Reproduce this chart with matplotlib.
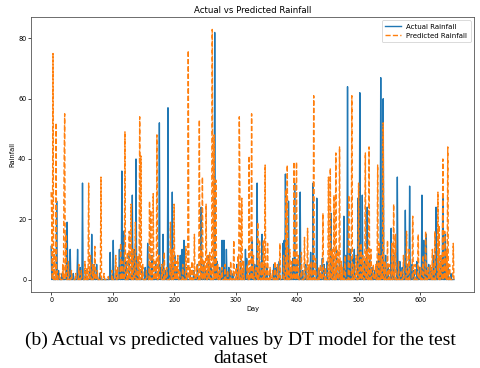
import numpy as np
import matplotlib
matplotlib.use("Agg")
import matplotlib.pyplot as plt

n_days = 656

actual_days = [0, 2, 9, 12, 18, 24, 26, 31, 36, 43, 47, 51, 56, 63, 66, 70, 74, 79, 96, 101, 106, 111, 115, 118,
               122, 127, 132, 135, 138, 142, 148, 153, 157, 160, 164, 170, 176, 179, 182, 186, 190, 194, 197,
               201, 205, 210, 213, 216, 220, 226, 232, 238, 244, 248, 252, 256, 260, 266, 270, 274, 278, 281,
               285, 289, 292, 296, 302, 308, 312, 316, 318, 323, 327, 331, 335, 339, 343, 347, 351, 356, 362,
               366, 371, 377, 379, 381, 386, 390, 393, 396, 400, 405, 409, 414, 419, 422, 426, 432, 436, 441,
               444, 449, 455, 459, 464, 469, 476, 479, 482, 486, 490, 493, 499, 502, 506, 510, 514, 518, 522,
               526, 530, 533, 536, 540, 544, 548, 553, 557, 563, 567, 571, 576, 579, 583, 587, 590, 595, 599,
               603, 606, 610, 614, 618, 622, 626, 630, 634, 637, 641, 645, 650]
actual_vals = [11, 5, 26, 3, 2, 4, 19, 10, 2, 10, 4, 32, 3, 4, 15, 5, 5, 2, 9, 13, 3, 10, 36, 16,
               6, 8, 28, 10, 40, 6, 3, 4, 12, 5, 8, 6, 52, 4, 15, 3, 57, 5, 29,
               8, 3, 8, 10, 13, 4, 2, 3, 5, 24, 6, 3, 8, 5, 82, 6, 4, 13, 13,
               10, 4, 3, 2, 5, 6, 3, 10, 7, 4, 13, 5, 32, 6, 15, 5, 4, 2, 5,
               4, 6, 12, 13, 35, 26, 4, 7, 32, 5, 29, 3, 5, 4, 9, 32, 27, 3, 7,
               5, 6, 22, 8, 10, 6, 21, 8, 64, 10, 7, 10, 27, 62, 28, 6, 24, 8, 4,
               3, 6, 10, 67, 60, 8, 4, 17, 8, 34, 6, 4, 23, 5, 31, 5, 3, 6, 4,
               28, 13, 15, 5, 4, 8, 24, 10, 6, 28, 15, 4, 2]

pred_days = [0, 1, 3, 5, 8, 10, 14, 19, 21, 22, 24, 28, 33, 40, 45, 49, 55, 58, 61, 64, 68, 71, 75, 81, 86,
             93, 99, 105, 108, 113, 116, 120, 124, 127, 130, 133, 137, 141, 144, 146, 149, 155, 160, 162, 166,
             169, 172, 175, 180, 184, 188, 194, 197, 200, 203, 206, 209, 214, 219, 223, 226, 229, 233, 237,
             241, 244, 246, 249, 252, 255, 258, 262, 265, 268, 271, 274, 278, 283, 287, 292, 297, 301, 304,
             306, 307, 310, 313, 319, 322, 326, 329, 333, 336, 339, 343, 345, 348, 352, 356, 360, 364, 368,
             372, 378, 382, 384, 388, 391, 395, 399, 402, 407, 412, 417, 420, 423, 427, 430, 435, 438, 442,
             446, 451, 454, 457, 460, 463, 466, 469, 472, 474, 478, 484, 489, 492, 496, 500, 504, 507, 511,
             514, 517, 520, 524, 528, 531, 534, 537, 540, 543, 547, 550, 554, 557, 560, 565, 569, 573, 578,
             582, 588, 592, 597, 601, 605, 609, 613, 617, 620, 624, 629, 631, 634, 637, 640, 643, 645, 648, 654]
pred_vals = [29, 20, 75, 10, 52, 3, 2, 5, 37, 55, 15, 6, 3, 2, 5, 3, 6, 4, 32, 8, 5, 11, 3, 34, 2,
             1, 3, 8, 4, 12, 6, 49, 9, 16, 25, 10, 19, 8, 54, 41, 5, 3, 26, 23, 28.5,
             6, 48, 8, 5, 9, 4, 19, 10, 25, 6, 8, 3, 5, 11, 76, 4, 6, 15, 5,
             53, 10, 34, 6, 25, 8, 9, 83, 48, 33, 5, 3, 4, 5, 3, 6, 13, 4, 8,
             54, 30, 27, 6, 5, 41, 55, 8, 4, 19, 13, 6, 13, 38, 12, 4, 3, 6, 5,
             12, 8, 30, 38, 10, 6, 39, 39, 8, 9, 14, 17, 5, 6, 61, 7, 4, 5, 22,
             4, 34, 37, 10, 28, 42, 10, 44, 6, 4, 8, 28, 61, 5, 8, 32, 12, 8, 42,
             10, 44, 10, 5, 5, 38, 12, 8, 52, 6, 13, 5, 12, 25, 15, 6, 3, 8, 16,
             10, 21, 5, 15, 4, 8, 16, 4, 5, 10, 16, 29, 18, 8, 40, 16, 10, 44, 5, 12]

days = np.arange(n_days)
actual = np.zeros(n_days)
actual[actual_days] = actual_vals
predicted = np.zeros(n_days)
predicted[pred_days] = pred_vals

fig = plt.figure(figsize=(4.8, 3.68), dpi=100)
ax = fig.add_axes([0.0646, 0.2065, 0.923, 0.7475])
ax.plot(days, actual, color="#1f77b4", lw=1.0, label="Actual Rainfall")
ax.plot(days, predicted, color="#ff7f0e", lw=1.0, ls="--", label="Predicted Rainfall")
ax.set_title("Actual vs Predicted Rainfall", fontsize=6.2, pad=3)
ax.set_xlabel("Day", fontsize=4.8, labelpad=2)
ax.set_ylabel("Rainfall", fontsize=4.8, labelpad=2)
ax.set_xticks([0, 100, 200, 300, 400, 500, 600])
ax.set_yticks([0, 20, 40, 60, 80])
ax.tick_params(labelsize=4.7, length=2, width=0.5, pad=1.5)
for s in ax.spines.values():
    s.set_linewidth(0.6)
    s.set_color("#555555")
leg = ax.legend(loc="upper right", fontsize=5, handlelength=2.2, borderpad=0.5,
                labelspacing=0.4, framealpha=1, fancybox=True)
leg.get_frame().set_linewidth(0.5)

fig.text(0.5, 0.076, "(b) Actual vs predicted values by DT model for the test",
         ha="center", va="center", family="Liberation Serif", fontsize=14)
fig.text(0.5, 0.026, "dataset", ha="center", va="center",
         family="Liberation Serif", fontsize=14)

fig.savefig("out.png", dpi=100)
